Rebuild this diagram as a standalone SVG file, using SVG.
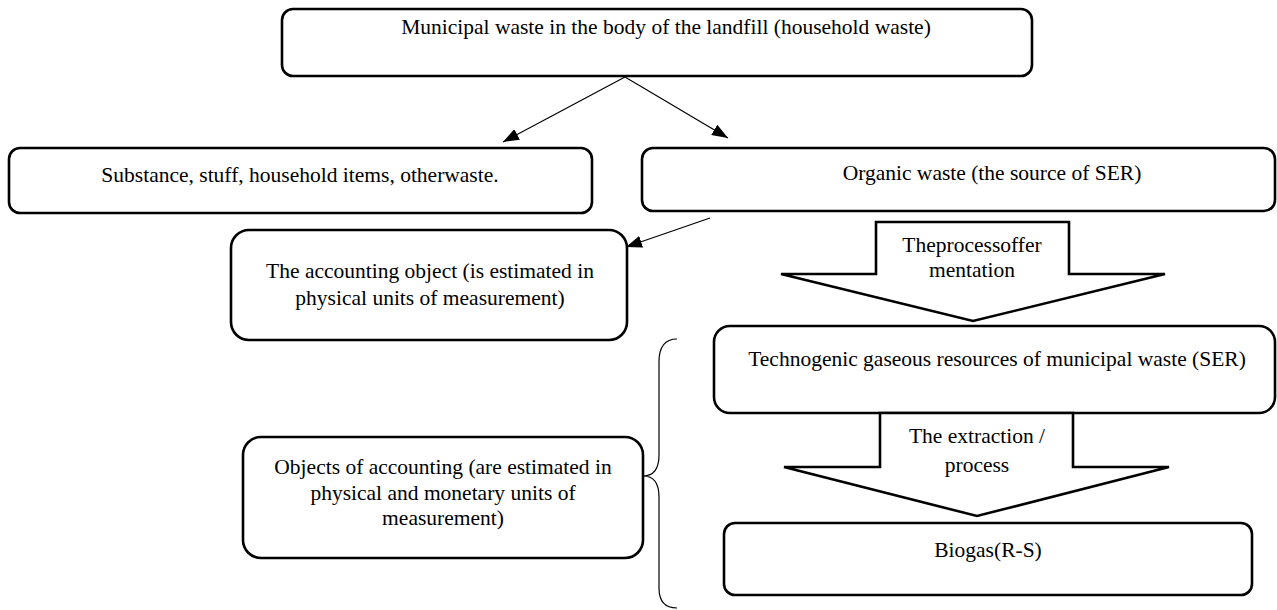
<svg xmlns="http://www.w3.org/2000/svg" width="1277" height="610" viewBox="0 0 1277 610">
<defs>
<style>
.box{fill:#fff;stroke:#000;stroke-width:2.6}
.blk{fill:#fff;stroke:#000;stroke-width:2.6;stroke-linejoin:miter}
.t{font-family:"Liberation Serif","Times New Roman","DejaVu Serif",serif;font-size:21.5px;fill:#000;text-anchor:middle}
.ln{stroke:#000;stroke-width:1.2;fill:none}
</style>
<marker id="ah" viewBox="0 0 16 12" refX="16" refY="6" markerWidth="16" markerHeight="12" markerUnits="userSpaceOnUse" orient="auto">
<path d="M0,0 L16,6 L0,12 Z" fill="#000"/>
</marker>
</defs>
<rect width="1277" height="610" fill="#fff"/>
<g id="connectors">
<line class="ln" x1="625" y1="77" x2="503" y2="142" marker-end="url(#ah)"/>
<line class="ln" x1="625" y1="77" x2="728" y2="138" marker-end="url(#ah)"/>
<line class="ln" x1="710" y1="218" x2="626" y2="247" marker-end="url(#ah)"/>
<path class="ln" stroke-width="1.6" d="M677,339 Q659,339 659,362 L659,455 Q659,476 643,476 Q659,476 659,497 L659,588 Q659,608 677,608"/>
</g>
<g id="n-municipal">
<rect class="box" x="282" y="9" width="750" height="67" rx="11"/>
<text class="t" x="666" y="34" font-family="Liberation Serif, Times New Roman, serif">Municipal waste in the body of the landfill (household waste)</text>
</g>
<g id="n-substance">
<rect class="box" x="9" y="148" width="583" height="65" rx="11"/>
<text class="t" x="300" y="182">Substance, stuff, household items, otherwaste.</text>
</g>
<g id="n-organic">
<rect class="box" x="642" y="148" width="633" height="63" rx="11"/>
<text class="t" x="992" y="180">Organic waste (the source of SER)</text>
</g>
<g id="n-accounting">
<rect class="box" x="231" y="230" width="396" height="110" rx="18"/>
<text class="t" x="430" y="278">The accounting object (is estimated in</text>
<text class="t" x="430" y="305">physical units of measurement)</text>
</g>
<g id="n-fermentation">
<path class="blk" d="M876,222 L1069,222 L1069,274 L1165,274 L973,321 L781,274 L876,274 Z"/>
<text class="t" x="972" y="252">Theprocessoffer</text>
<text class="t" x="972" y="277">mentation</text>
</g>
<g id="n-technogenic">
<rect class="box" x="714" y="326" width="561" height="87" rx="16"/>
<text class="t" x="997" y="366">Technogenic gaseous resources of municipal waste (SER)</text>
</g>
<g id="n-extraction">
<path class="blk" d="M880,413 L1073,413 L1073,467 L1169,467 L977,516 L784,467 L880,467 Z"/>
<text class="t" x="977" y="443">The extraction /</text>
<text class="t" x="977" y="472">process</text>
</g>
<g id="n-biogas">
<rect class="box" x="724" y="523" width="528" height="72" rx="11"/>
<text class="t" x="988" y="557">Biogas(R-S)</text>
</g>
<g id="n-objects">
<rect class="box" x="243" y="437" width="400" height="121" rx="18"/>
<text class="t" x="443" y="474">Objects of accounting (are estimated in</text>
<text class="t" x="443" y="500">physical and monetary units of</text>
<text class="t" x="443" y="525">measurement)</text>
</g>
</svg>
